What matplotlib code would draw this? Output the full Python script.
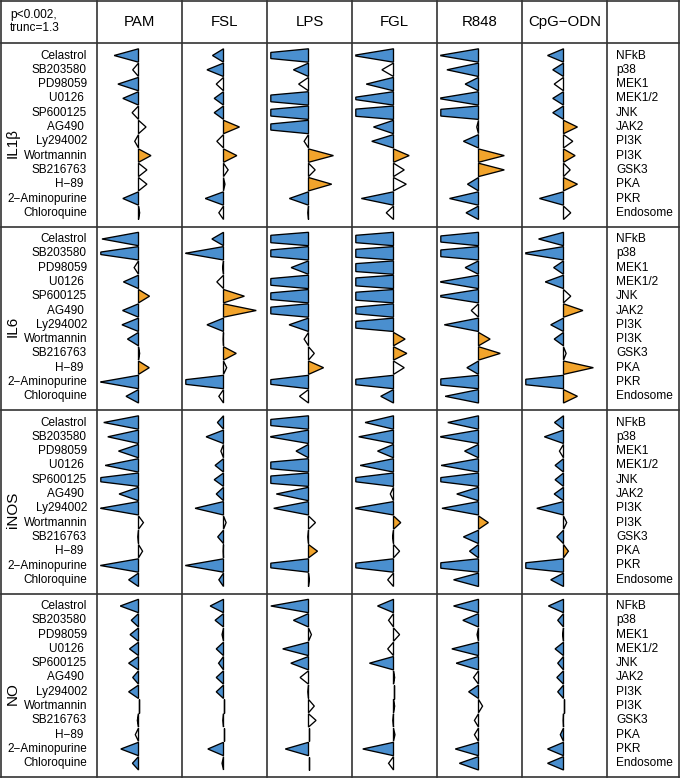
import matplotlib
matplotlib.use("Agg")
import matplotlib.pyplot as plt
from matplotlib.patches import Polygon

plt.rcParams['font.family'] = ['Liberation Sans', 'DejaVu Sans']

# ---- data ----
stimuli = ["PAM", "FSL", "LPS", "FGL", "R848", "CpG\u2212ODN"]
inhibitors = ["Celastrol", "SB203580", "PD98059", "U0126 ", "SP600125", "AG490 ",
              "Ly294002", "Wortmannin", "SB216763", "H\u221289 ", "2\u2212Aminopurine",
              "Chloroquine"]
targets = ["NFkB", "p38", "MEK1", "MEK1/2", "JNK", "JAK2", "PI3K", "PI3K", "GSK3",
           "PKA", "PKR", "Endosome"]
readouts = ["IL1\u03b2", "IL6", "iNOS", "NO"]

# rows = inhibitors, columns = stimuli (log fold change)
il1b_vals = [
    [-0.84, -0.38, -2.4, -1.4, -1.35, -0.55],
    [-0.20, -0.57, -0.52, -0.40, -1.09, -0.37],
    [-0.71, -0.25, -0.34, -0.94, -0.46, -0.32],
    [-0.54, -0.32, -2.6, -1.6, -1.4, -0.37],
    [-0.22, -0.32, -2.6, -2.8, -2.6, -0.37],
    [0.26, 0.55, -2.4, -0.69, -0.06, 0.48],
    [-0.13, -0.23, -0.15, -0.75, -0.52, 0.32],
    [0.43, 0.46, 0.86, 0.54, 0.89, 0.40],
    [0.29, 0.16, 0.23, 0.37, 0.89, 0.23],
    [0.29, 0.05, 0.80, 0.44, -0.38, 0.48],
    [-0.54, -0.63, -0.66, -1.11, -1.0, -0.83],
    [0.04, -0.16, -0.02, -0.25, -0.43, 0.25],
]
il1b_sig = ["bbbbbb", "wbbwbb", "bwwbbw", "bbbbbb", "wbbbbb", "wobbwo",
            "wwwbbw", "oooooo", "wwwwow", "wwowbo", "bbbbbb", "wwwwbw"]

il6_vals = [
    [-1.26, -0.40, -2.9, -2.9, -2.4, -0.86],
    [-1.6, -1.32, -2.6, -3.2, -2.6, -1.4],
    [-0.15, -0.03, -0.60, -3.2, -0.46, -0.34],
    [-0.52, -0.23, -2.6, -3.2, -1.35, -0.63],
    [0.38, 0.72, -2.6, -3.2, -1.45, 0.25],
    [-0.55, 1.13, -2.6, -2.6, -0.25, 0.67],
    [-0.57, -0.57, -0.67, -2.6, -1.18, -0.44],
    [-0.38, -0.01, -0.15, 0.40, 0.40, -0.32],
    [0.04, 0.44, 0.20, 0.46, 0.75, 0.09],
    [0.37, 0.11, 0.52, 0.37, -0.40, 1.03],
    [-1.32, -2.0, -2.0, -2.2, -2.4, -2.2],
    [-0.43, -0.16, -0.31, -0.44, -1.15, 0.48],
]
il6_sig = ["bbbbbb", "bbbbbb", "wwbbbb", "bwbbbb", "oobbbw", "bobbwo",
           "bbbbbb", "bwwoob", "wowoow", "owowbo", "bbbbbb", "bwwbbo"]

inos_vals = [
    [-1.2, -0.21, -2.4, -0.98, -1.06, -0.31],
    [-1.06, -0.60, -1.35, -1.2, -1.35, -0.66],
    [-0.69, -0.09, -0.43, -0.55, -0.48, -0.14],
    [-1.15, -0.29, -2.6, -1.15, -1.29, -0.29],
    [-1.9, -0.32, -2.9, -1.9, -1.9, -0.29],
    [-0.67, -0.25, -1.11, -0.11, -0.75, -0.32],
    [-1.32, -0.98, -1.2, -1.35, -1.26, -0.92],
    [0.17, 0.09, 0.24, 0.25, 0.34, 0.11],
    [-0.02, -0.20, -0.02, -0.03, -0.52, -0.23],
    [0.14, -0.01, 0.31, 0.21, -0.31, 0.17],
    [-1.32, -1.32, -2.0, -2.0, -2.2, -2.2],
    [-0.34, -0.16, 0.03, -0.20, -0.86, -0.44],
]
inos_sig = ["bbbbbb", "bbbbbb", "bwbbbw", "bbbbbb", "bbbbbb", "bbbwbb",
            "bbbbbb", "wwwoow", "wbwwbb", "wwowbo", "bbbbbb", "bbwwbb"]

no_vals = [
    [-0.63, -0.46, -1.3, -0.55, -0.86, -0.52],
    [-0.25, -0.29, -0.52, -0.17, -0.54, -0.20],
    [-0.29, -0.05, 0.10, 0.21, -0.05, -0.03],
    [-0.31, -0.25, -0.89, -0.20, -0.92, -0.29],
    [-0.34, -0.17, -0.61, -0.83, -0.77, -0.20],
    [-0.20, -0.25, -0.29, 0.04, -0.17, -0.23],
    [-0.34, -0.25, -0.02, 0.0, -0.34, -0.20],
    [0.0, 0.0, 0.20, 0.04, 0.14, 0.0],
    [-0.04, -0.02, 0.26, -0.02, -0.14, -0.01],
    [-0.11, 0.0, 0.0, 0.05, -0.14, -0.11],
    [-0.61, -0.54, -0.80, -1.06, -0.80, -0.55],
    [-0.21, -0.05, 0.0, -0.17, -0.66, -0.55],
]
no_sig = ["bbbbbb", "bbbwbb", "bwwwww", "bbbwbb", "bbbbbb", "bbwwwb",
          "bbwwbb", "wwwwww", "wwwwww", "wwwwwb", "bbbbbb", "bbwwbb"]

groups = [(il1b_vals, il1b_sig), (il6_vals, il6_sig),
          (inos_vals, inos_sig), (no_vals, no_sig)]

trunc = 1.3
fill = {"b": "#4a8fcf", "o": "#f2a42c", "w": "white"}

# ---- layout (pixel coordinates) ----
W, H = 681, 779
fig = plt.figure(figsize=(W / 100, H / 100), dpi=100)
ax = fig.add_axes([0, 0, 1, 1])
ax.set_xlim(0, W)
ax.set_ylim(H, 0)
ax.axis('off')

left_w = 97
col_w = 85
head_h = 43
grp_h = 183.5
row_step = 14.3
row_off = 12.5
scale = 29.0   # pixels per unit
half = 6.7     # half height of triangle base


def draw_tri(cx, cy, v, c):
    sign = -1 if v < 0 else 1
    a = abs(v)
    if a <= trunc:
        pts = [(cx, cy - half), (cx + sign * a * scale, cy), (cx, cy + half)]
    else:
        t = half * (1 - trunc / a)
        xe = cx + sign * trunc * scale
        pts = [(cx, cy - half), (xe, cy - t), (xe, cy + t), (cx, cy + half)]
    ax.add_patch(Polygon(pts, closed=True, facecolor=fill[c],
                         edgecolor='black', lw=0.95))


# header
ax.text(10, 15, "p<0.002,", fontsize=8.6, ha='left', va='center')
ax.text(10, 28, "trunc=1.3", fontsize=8.6, ha='left', va='center')
for j, s in enumerate(stimuli):
    ax.text(left_w + (j + 0.5) * col_w, 22, s, fontsize=10.8,
            ha='center', va='center')

for g, (vals, sig) in enumerate(groups):
    top = head_h + g * grp_h
    ax.text(13, top + grp_h / 2 + 8, readouts[g], fontsize=11,
            rotation=90, ha='center', va='center')
    for i in range(len(inhibitors)):
        y = top + row_off + i * row_step
        ax.text(87, y, inhibitors[i], fontsize=8.5, ha='right', va='center')
        ax.text(616, y, targets[i], fontsize=8.6, ha='left', va='center')
        for j in range(len(stimuli)):
            cx = left_w + (j + 0.5) * col_w - 1
            draw_tri(cx, y, vals[i][j], sig[i][j])

# grid lines
lc = '#333333'
for k in range(len(stimuli) + 1):
    x = left_w + k * col_w
    ax.plot([x, x], [1, H - 2], color=lc, lw=1.2)
ax.plot([1, 1], [1, H - 2], color=lc, lw=1.2)
ax.plot([W - 2, W - 2], [1, H - 2], color=lc, lw=1.2)
ax.plot([1, W - 2], [1, 1], color=lc, lw=1.2)
for g in range(len(groups) + 1):
    y = head_h + g * grp_h
    ax.plot([1, W - 2], [y, y], color=lc, lw=1.2)

fig.savefig("out.png", dpi=100)
